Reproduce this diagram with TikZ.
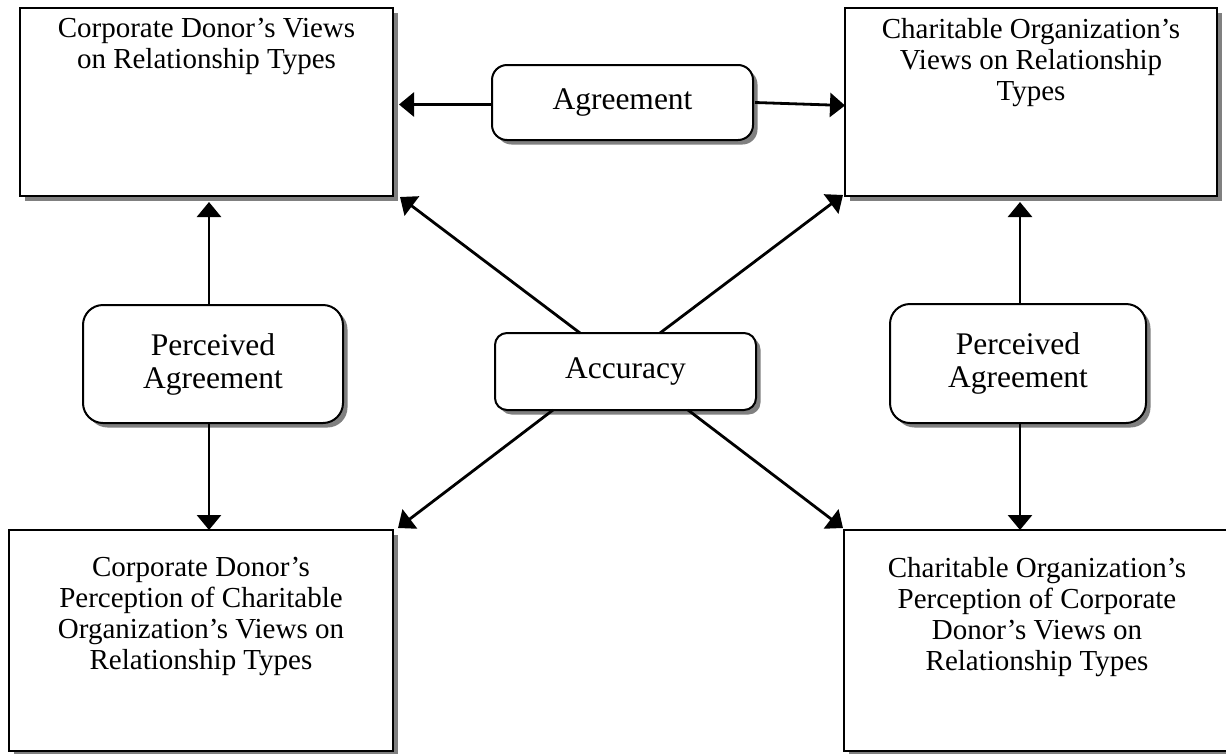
\documentclass[tikz,border=0pt]{standalone}
\usepackage{fontspec}
\setmainfont{Liberation Serif}
\usetikzlibrary{calc,arrows.meta}
\begin{document}
\begin{tikzpicture}[x=1pt,y=-1pt,
  shadowed/.style={preaction={fill=black!50,draw=none,transform canvas={xshift=4.5pt,yshift=-4.5pt}}},
  rbox/.style={draw,line width=2.6pt,fill=white,shadowed,rectangle,inner sep=0pt,outer sep=0pt},
  rnd/.style={draw,line width=2pt,fill=white,shadowed,rounded corners=#1,inner sep=0pt,outer sep=0pt,
    align=center,font=\fontsize{31.5}{33}\selectfont},
  rtext/.style={align=center,font=\fontsize{29}{31}\selectfont,inner sep=0pt,anchor=north},
  arr/.style={-{Triangle[length=15pt,width=24pt]},line width=2.8pt}
]
\useasboundingbox (0,0) rectangle (1226,753);

% rectangles
\node[rbox,minimum width=373pt,minimum height=188pt] (tl) at (206.5,102) {};
\node[rbox,minimum width=372pt,minimum height=188pt] (tr) at (1031,102) {};
\node[rbox,minimum width=384pt,minimum height=221pt] (bl) at (201,640.5) {};
\node[rbox,minimum width=386pt,minimum height=221pt] (br) at (1037,640.5) {};

\node[rtext,yshift=-10pt] (tlt) at (tl.north) {Corporate Donor’s Views\\on Relationship Types};
\node[rtext,yshift=-10pt] (trt) at (tr.north) {Charitable Organization’s\\Views on Relationship\\Types};
\node[rtext,yshift=-27pt] (blt) at (bl.north) {Corporate Donor’s\\Perception of Charitable\\Organization’s Views on\\Relationship Types};
\node[rtext,yshift=-27pt] (brt) at (br.north) {Charitable Organization’s\\Perception of Corporate\\Donor’s Views on\\Relationship Types};

% rounded boxes
\node[rnd=15pt,minimum width=261pt,minimum height=75pt] (agr) at (622.5,102.5) {Agreement};
\node[rnd=20pt,minimum width=260pt,minimum height=118pt] (pl) at (213,364) {Perceived\\Agreement};
\node[rnd=20pt,minimum width=256pt,minimum height=119pt] (pr) at (1018,363.5) {Perceived\\Agreement};
\node[rnd=12pt,minimum width=261pt,minimum height=77pt] (acc) at (625.5,371.5) {Accuracy};

% agreement arrows
\draw[arr] ($(agr.west)+(0,2)$) -- ($(agr.west -| tl.east)+(6,2)$);
\draw[arr] ($(agr.east)+(2,0)$) -- ($(agr.east -| tr.west)+(0,3)$);

% perceived agreement arrows
\draw[arr] ($(pl.north)+(-4,0)$) -- ($(tl.south -| pl.north)+(-4,6)$);
\draw[arr] ($(pl.south)+(-4,0)$) -- ($(bl.north -| pl.south)+(-4,0)$);
\draw[arr] ($(pr.north)+(2,0)$) -- ($(tr.south -| pr.north)+(2,6)$);
\draw[arr] ($(pr.south)+(2,0)$) -- ($(br.north -| pr.south)+(2,0)$);

% accuracy arrows
\draw[arr] ($(acc.north west)+(85,0)$) -- ($(tl.south east)+(7,1)$);
\draw[arr] ($(acc.north west)+(165,0)$) -- ($(tr.south west)+(-2,-1)$);
\draw[arr] ($(acc.south west)+(58,0)$) -- ($(bl.north east)+(5,-2)$);
\draw[arr] ($(acc.south west)+(193,0)$) -- ($(br.north west)+(-1,-2)$);
\end{tikzpicture}
\end{document}
